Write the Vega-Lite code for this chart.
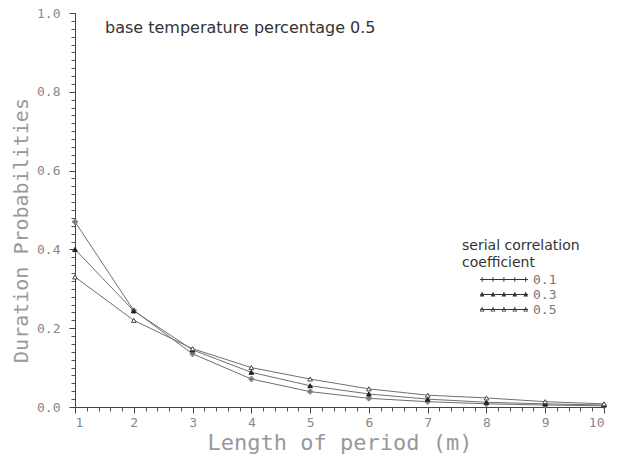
{
  "$schema": "https://vega.github.io/schema/vega-lite/v6.json",
  "autosize": {"type": "none"},
  "width": 529,
  "height": 394,
  "padding": {"left": 75, "top": 13, "right": 14, "bottom": 52},
  "background": "white",
  "config": {"view": {"stroke": null}},
  "title": {"text": "base temperature percentage 0.5", "anchor": "start", "frame": "group", "dx": 30, "offset": -37, "baseline": "middle", "font": "DejaVu Sans", "fontSize": 16, "fontWeight": "normal", "color": "#333"},
  "data": {"values": [
    {"x": 1, "p": 0.47, "s": "0.1"}, {"x": 2, "p": 0.245, "s": "0.1"}, {"x": 3, "p": 0.135, "s": "0.1"}, {"x": 4, "p": 0.071, "s": "0.1"}, {"x": 5, "p": 0.039, "s": "0.1"},
    {"x": 6, "p": 0.022, "s": "0.1"}, {"x": 7, "p": 0.0135, "s": "0.1"}, {"x": 8, "p": 0.008, "s": "0.1"}, {"x": 9, "p": 0.005, "s": "0.1"}, {"x": 10, "p": 0.003, "s": "0.1"},
    {"x": 1, "p": 0.40, "s": "0.3"}, {"x": 2, "p": 0.244, "s": "0.3"}, {"x": 3, "p": 0.145, "s": "0.3"}, {"x": 4, "p": 0.088, "s": "0.3"}, {"x": 5, "p": 0.054, "s": "0.3"},
    {"x": 6, "p": 0.033, "s": "0.3"}, {"x": 7, "p": 0.02, "s": "0.3"}, {"x": 8, "p": 0.012, "s": "0.3"}, {"x": 9, "p": 0.008, "s": "0.3"}, {"x": 10, "p": 0.005, "s": "0.3"},
    {"x": 1, "p": 0.33, "s": "0.5"}, {"x": 2, "p": 0.22, "s": "0.5"}, {"x": 3, "p": 0.148, "s": "0.5"}, {"x": 4, "p": 0.10, "s": "0.5"}, {"x": 5, "p": 0.071, "s": "0.5"},
    {"x": 6, "p": 0.046, "s": "0.5"}, {"x": 7, "p": 0.030, "s": "0.5"}, {"x": 8, "p": 0.023, "s": "0.5"}, {"x": 9, "p": 0.0135, "s": "0.5"}, {"x": 10, "p": 0.008, "s": "0.5"}
  ]},
  "layer": [
    {
      "mark": {"type": "line", "color": "#707070", "strokeWidth": 1},
      "encoding": {
        "x": {"field": "x", "type": "quantitative", "scale": {"domain": [1, 10], "nice": false, "zero": false},
          "axis": {"orient": "bottom", "values": [1,1.2,1.4,1.6,1.8,2,2.2,2.4,2.6,2.8,3,3.2,3.4,3.6,3.8,4,4.2,4.4,4.6,4.8,5,5.2,5.4,5.6,5.8,6,6.2,6.4,6.6,6.8,7,7.2,7.4,7.6,7.8,8,8.2,8.4,8.6,8.8,9,9.2,9.4,9.6,9.8,10],
            "labels": false, "domain": false, "grid": false, "ticks": true, "tickSize": 4, "tickColor": "#555", "title": null}},
        "y": {"field": "p", "type": "quantitative", "scale": {"domain": [0, 1], "nice": false},
          "axis": {"orient": "left", "values": [0,0.02,0.04,0.06,0.08,0.1,0.12,0.14,0.16,0.18,0.2,0.22,0.24,0.26,0.28,0.3,0.32,0.34,0.36,0.38,0.4,0.42,0.44,0.46,0.48,0.5,0.52,0.54,0.56,0.58,0.6,0.62,0.64,0.66,0.68,0.7,0.72,0.74,0.76,0.78,0.8,0.82,0.84,0.86,0.88,0.9,0.92,0.94,0.96,0.98,1],
            "labels": false, "domain": false, "grid": false, "ticks": true, "tickSize": 4, "tickColor": "#555", "title": null}},
        "detail": {"field": "s", "type": "nominal"}
      }
    },
    {
      "mark": {"type": "point", "strokeWidth": 1, "size": 22, "opacity": 1},
      "encoding": {
        "x": {"field": "x", "type": "quantitative", "scale": {"domain": [1, 10], "nice": false, "zero": false},
          "axis": {"orient": "bottom", "values": [1,2,3,4,5,6,7,8,9,10], "grid": false, "tickSize": 6, "tickColor": "#444", "domainColor": "#444",
            "labelFont": "DejaVu Sans Mono", "labelFontSize": 13, "labelColor": "#888", "labelPadding": 3,
            "title": "Length of period (m)", "titleFont": "DejaVu Sans Mono", "titleFontSize": 22, "titleFontWeight": "normal", "titleColor": "#999", "titlePadding": 3}},
        "y": {"field": "p", "type": "quantitative", "scale": {"domain": [0, 1], "nice": false},
          "axis": {"orient": "left", "values": [0,0.2,0.4,0.6,0.8,1], "format": ".1f", "grid": false, "tickSize": 6, "tickColor": "#444", "domainColor": "#444",
            "labelFont": "DejaVu Sans Mono", "labelFontSize": 13, "labelColor": "#888", "labelPadding": 9,
            "title": "Duration Probabilities", "titleFont": "DejaVu Sans Mono", "titleFontSize": 20, "titleFontWeight": "normal", "titleColor": "#999", "titlePadding": 5, "titleY": 217}},
        "shape": {"field": "s", "type": "nominal", "scale": {"domain": ["0.1", "0.3", "0.5"], "range": ["cross", "triangle-up", "triangle-up"]}, "legend": null},
        "fill": {"field": "s", "type": "nominal", "scale": {"domain": ["0.1", "0.3", "0.5"], "range": ["#777777", "#222222", "#ffffff"]}, "legend": null},
        "stroke": {"field": "s", "type": "nominal", "scale": {"domain": ["0.1", "0.3", "0.5"], "range": ["#888888", "#222222", "#444444"]}, "legend": null}
      }
    },
    {
      "mark": {"type": "point", "filled": true, "color": "#333", "opacity": 0},
      "encoding": {
        "x": {"field": "x", "type": "quantitative", "scale": {"domain": [1, 10], "nice": false, "zero": false}, "axis": null},
        "y": {"field": "p", "type": "quantitative", "scale": {"domain": [0, 1], "nice": false}, "axis": null},
        "shape": {"field": "s", "type": "nominal",
          "scale": {"domain": ["0.1", "0.3", "0.5"], "range": [
            "M-0.45,-0.015H1V0.015H-0.45ZM-0.405,-0.07H-0.375V0.07H-0.405ZM-0.075,-0.07H-0.045V0.07H-0.075ZM0.255,-0.07H0.285V0.07H0.255ZM0.585,-0.07H0.615V0.07H0.585ZM0.915,-0.07H0.945V0.07H0.915Z",
            "M-0.45,-0.012H1V0.012H-0.45ZM-0.39,-0.09L-0.32,0.06L-0.46,0.06ZM-0.06,-0.09L0.01,0.06L-0.13,0.06ZM0.27,-0.09L0.34,0.06L0.2,0.06ZM0.6,-0.09L0.67,0.06L0.53,0.06ZM0.93,-0.09L1,0.06L0.86,0.06Z",
            "M-0.45,-0.012H1V0.012H-0.45ZM-0.39,-0.09L-0.32,0.06L-0.46,0.06ZM-0.39,-0.04L-0.425,0.035L-0.355,0.035ZM-0.06,-0.09L0.01,0.06L-0.13,0.06ZM-0.06,-0.04L-0.095,0.035L-0.025,0.035ZM0.27,-0.09L0.34,0.06L0.2,0.06ZM0.27,-0.04L0.235,0.035L0.305,0.035ZM0.6,-0.09L0.67,0.06L0.53,0.06ZM0.6,-0.04L0.565,0.035L0.635,0.035ZM0.93,-0.09L1,0.06L0.86,0.06ZM0.93,-0.04L0.895,0.035L0.965,0.035Z"
          ]},
          "legend": {"orient": "none", "legendX": 387, "legendY": 226, "title": ["serial correlation", "coefficient"],
            "titleFont": "DejaVu Sans", "titleFontSize": 14, "titleFontWeight": "normal", "titleColor": "#333", "titleLineHeight": 17, "titlePadding": 2,
            "symbolSize": 4356, "symbolOpacity": 1, "symbolFillColor": "#333", "symbolStrokeWidth": 0,
            "labelFont": "DejaVu Sans Mono", "labelFontSize": 13, "labelColor": "#777", "labelOffset": 5, "clipHeight": 15, "rowPadding": 0}}
      }
    }
  ],
  "resolve": {
    "scale": {"shape": "independent", "fill": "independent", "stroke": "independent"},
    "axis": {"x": "independent", "y": "independent"},
    "legend": {"shape": "independent"}
  }
}
